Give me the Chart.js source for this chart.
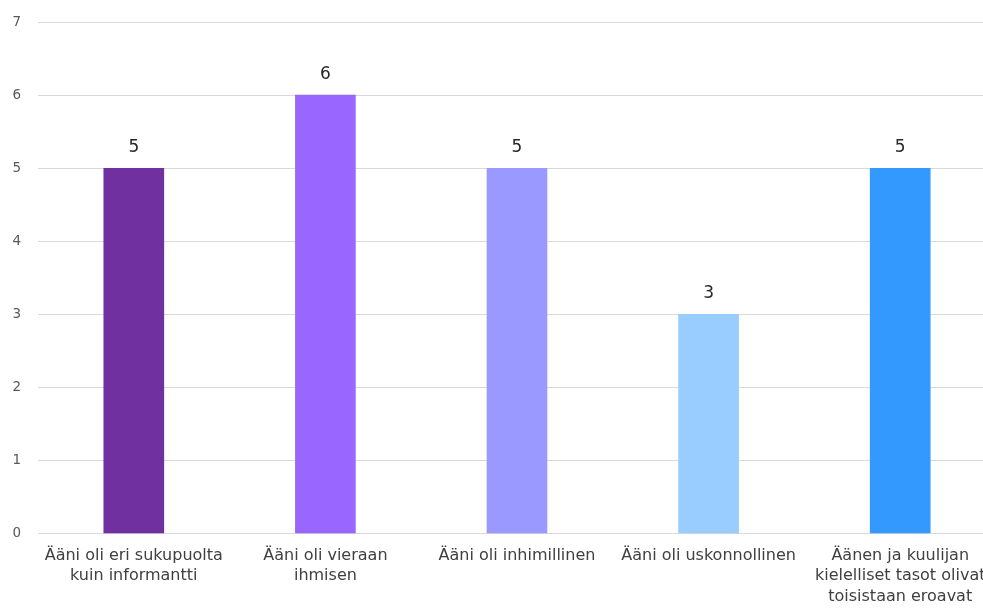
<!DOCTYPE html>
<html>
<head>
<meta charset="utf-8">
<script src="https://cdn.jsdelivr.net/npm/chart.js@4/dist/chart.umd.min.js"></script>
<style>
html,body{margin:0;padding:0;background:#fff;overflow:hidden;}
#wrap{width:1000px;height:609px;overflow:hidden;}
#c{display:block;margin-top:-3px;}
</style>
</head>
<body>
<div id="wrap"><canvas id="c" width="1000" height="622"></canvas></div>
<script>
const categories = [
  ["Ääni oli eri sukupuolta", "kuin informantti"],
  ["Ääni oli vieraan", "ihmisen"],
  ["Ääni oli inhimillinen"],
  ["Ääni oli uskonnollinen"],
  ["Äänen ja kuulijan", "kielelliset tasot olivat", "toisistaan eroavat"]
];
const values = [5, 6, 5, 3, 5];
const barColors = ["#7030A0", "#9966FF", "#9999FF", "#99CCFF", "#3399FF"];
const yTicks = [0, 1, 2, 3, 4, 5, 6, 7];

const FONT = "'DejaVu Sans', sans-serif";

const valueLabels = {
  id: 'valueLabels',
  afterDatasetsDraw(chart) {
    const ctx = chart.ctx;
    const meta = chart.getDatasetMeta(0);
    ctx.save();
    ctx.font = "17px " + FONT;
    ctx.fillStyle = "#262626";
    ctx.textAlign = "center";
    ctx.textBaseline = "middle";
    meta.data.forEach((bar, i) => {
      ctx.fillText(String(values[i]), bar.x, bar.y - 21);
    });
    ctx.restore();
  }
};

new Chart(document.getElementById('c'), {
  type: 'bar',
  data: {
    labels: categories,
    datasets: [{
      data: values,
      backgroundColor: barColors,
      borderWidth: 0,
      barThickness: 60
    }]
  },
  options: {
    responsive: false,
    animation: false,
    devicePixelRatio: 1,
    layout: { padding: { top: 14, left: 3, right: 4, bottom: 0 } },
    plugins: { legend: { display: false }, tooltip: { enabled: false } },
    scales: {
      y: {
        min: 0, max: 7,
        afterBuildTicks(scale) { scale.ticks = yTicks.map(v => ({ value: v })); },
        afterFit(scale) { scale.width = 35; },
        ticks: { font: { size: 13.5, family: FONT }, color: "#595959", padding: 17 },
        grid: { color: "#D9D9D9", lineWidth: 1, drawTicks: false },
        border: { display: false }
      },
      x: {
        grid: { display: false, drawTicks: false },
        border: { display: false },
        ticks: { font: { size: 16, family: FONT, lineHeight: 1.28 }, color: "#404040", padding: 12, maxRotation: 0, autoSkip: false }
      }
    }
  },
  plugins: [valueLabels]
});
</script>
</body>
</html>
